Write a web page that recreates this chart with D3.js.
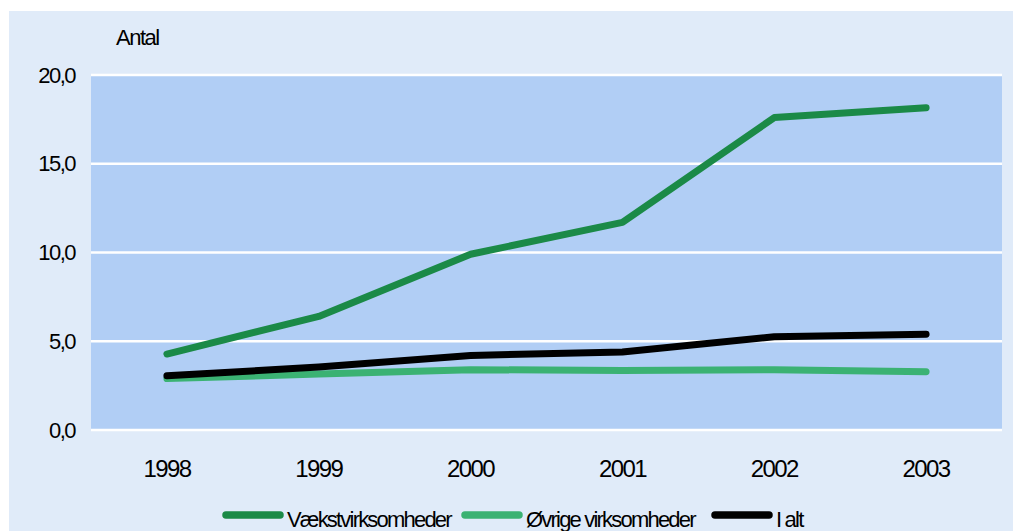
<!DOCTYPE html>
<html>
<head>
<meta charset="utf-8">
<title>Antal</title>
<script src="https://d3js.org/d3.v7.min.js"></script>
<style>
  body { margin: 0; background: #ffffff; }
  text { font-family: "Liberation Sans", Arial, sans-serif; fill: #000; }
</style>
</head>
<body>
<script>
// Data
const years = ["1998", "1999", "2000", "2001", "2002", "2003"];
const vaekst = [4.28, 6.4, 9.9, 11.7, 17.6, 18.15];
const oevrige = [2.9, 3.15, 3.4, 3.35, 3.4, 3.28];
const iAlt = [3.05, 3.55, 4.2, 4.4, 5.25, 5.4];
const yTicks = [0, 5, 10, 15, 20];
const seriesNames = ["Vækstvirksomheder", "Øvrige virksomheder", "I alt"];

const colors = ["#1b8a47", "#3bb273", "#000000"];
const allSeries = [vaekst, oevrige, iAlt];

const W = 1013, H = 531;
const plot = { left: 91, right: 1002, top: 75, bottom: 430 };

const svg = d3.select("body").append("svg")
    .attr("width", W)
    .attr("height", H);

// outer panel
svg.append("rect")
    .attr("x", 9).attr("y", 11)
    .attr("width", W - 9).attr("height", H - 11)
    .attr("fill", "#e0ebf9");

const x = d3.scaleBand()
    .domain(years)
    .range([plot.left, plot.right]);

const y = d3.scaleLinear()
    .domain([0, 20])
    .range([plot.bottom, plot.top]);

// plot area
svg.append("rect")
    .attr("x", plot.left).attr("y", plot.top)
    .attr("width", plot.right - plot.left)
    .attr("height", plot.bottom - plot.top)
    .attr("fill", "#b1cef5");

// grid lines
svg.append("g")
    .selectAll("line")
    .data(yTicks)
    .join("line")
    .attr("x1", plot.left).attr("x2", plot.right)
    .attr("y1", d => y(d)).attr("y2", d => y(d))
    .attr("stroke", "#ffffff")
    .attr("stroke-width", 2.5);

// y axis labels
const fmt = d => d.toFixed(1).replace(".", ",");
svg.append("g")
    .selectAll("text")
    .data(yTicks)
    .join("text")
    .attr("x", 75)
    .attr("y", d => y(d) + 7.5)
    .attr("text-anchor", "end")
    .style("font-size", "22px")
    .style("letter-spacing", "-1.5px")
    .text(fmt);

// x axis labels
svg.append("g")
    .selectAll("text")
    .data(years)
    .join("text")
    .attr("x", d => x(d) + x.bandwidth() / 2)
    .attr("y", 477)
    .attr("text-anchor", "middle")
    .style("font-size", "24px")
    .style("letter-spacing", "-1.6px")
    .text(d => d);

svg.append("text")
    .attr("x", 116).attr("y", 45)
    .style("font-size", "22px")
    .style("letter-spacing", "-1.5px")
    .text("Antal");

// lines
const line = d3.line()
    .x((d, i) => x(years[i]) + x.bandwidth() / 2)
    .y(d => y(d));

svg.append("g")
    .selectAll("path")
    .data(allSeries)
    .join("path")
    .attr("d", line)
    .attr("fill", "none")
    .attr("stroke", (d, i) => colors[i])
    .attr("stroke-width", 7)
    .attr("stroke-linecap", "round")
    .attr("stroke-linejoin", "round");

// legend
const legendX = [287, 526, 776];
const leg = svg.append("g")
    .selectAll("g")
    .data(seriesNames)
    .join("g")
    .attr("transform", (d, i) => `translate(${legendX[i]},515)`);

leg.append("line")
    .attr("x1", -61).attr("x2", -7)
    .attr("stroke", (d, i) => colors[i])
    .attr("stroke-width", 7.5)
    .attr("stroke-linecap", "round");

leg.append("text")
    .attr("x", 0).attr("y", 11.5)
    .style("font-size", "22px")
    .style("letter-spacing", "-1.8px")
    .text(d => d);
</script>
</body>
</html>
